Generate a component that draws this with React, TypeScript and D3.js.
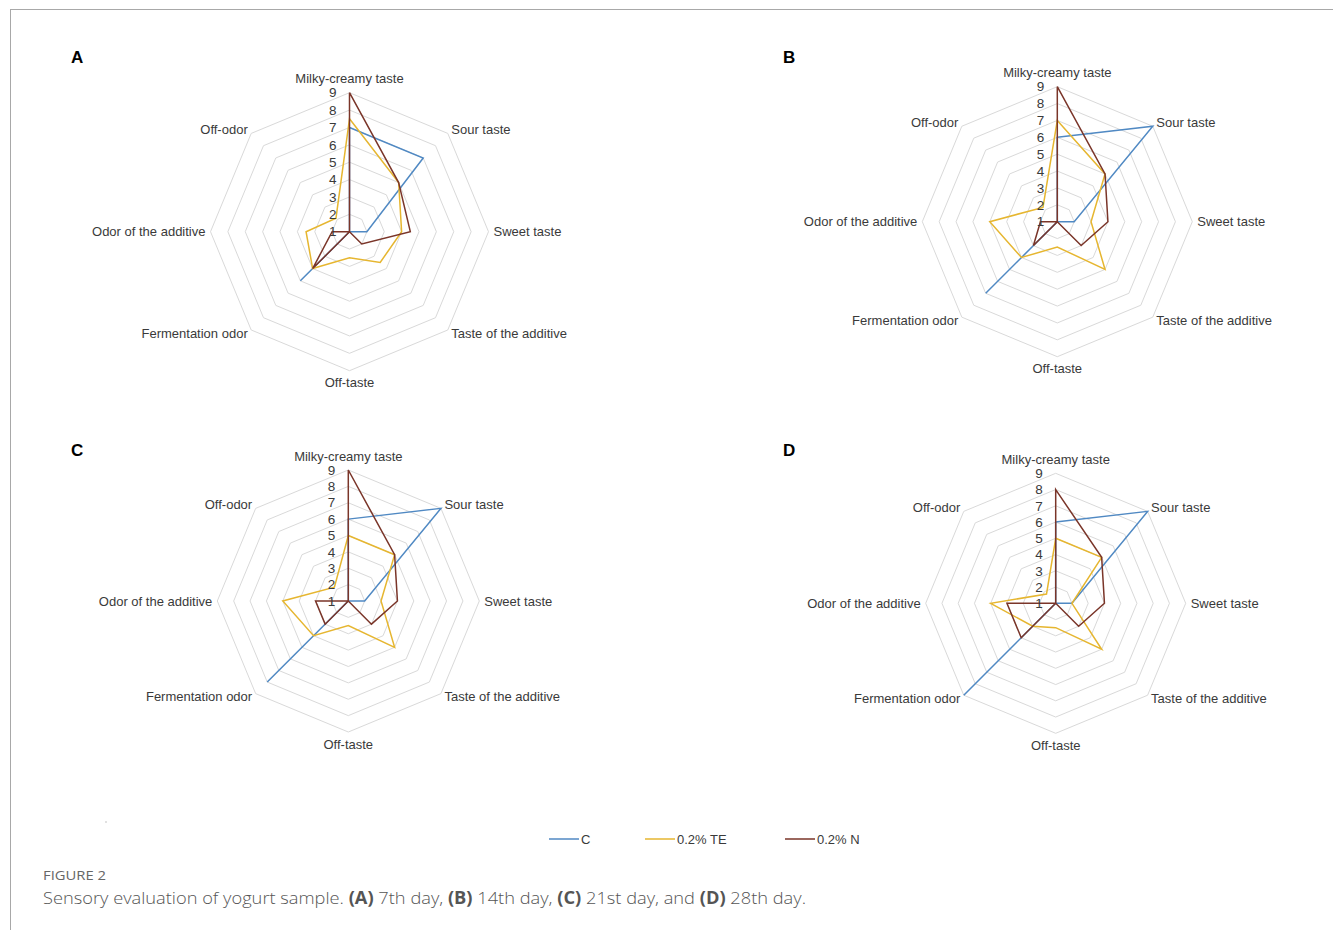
import React from 'react';
import * as d3 from 'd3';

// ---------- data ----------
const categories = [
  'Milky-creamy taste',
  'Sour taste',
  'Sweet taste',
  'Taste of the additive',
  'Off-taste',
  'Fermentation odor',
  'Odor of the additive',
  'Off-odor',
];
const seriesNames = ['C', '0.2% TE', '0.2% N'];
const tickValues = [1, 2, 3, 4, 5, 6, 7, 8, 9];
const panelLetters = ['A', 'B', 'C', 'D'];

// (A) 7th day
const day7C = [7, 7, 2, 1, 1, 5, 1, 1];
const day7TE = [7.5, 5, 4, 3.5, 2.5, 4, 3.5, 2.1];
const day7N = [9, 5, 4.5, 2, 1, 4, 2, 1];
// (B) 14th day
const day14C = [6, 9, 2, 1, 1, 7, 1, 1];
const day14TE = [7, 5, 3, 5, 2.5, 4, 5, 2.2];
const day14N = [9, 5, 4, 3, 1, 3, 2, 1];
// (C) 21st day
const day21C = [6, 9, 2, 1, 1, 8, 1, 1];
const day21TE = [5, 5, 3, 5, 2.5, 4, 5, 2.2];
const day21N = [9, 5, 4, 3, 1, 3, 3, 1];
// (D) 28th day
const day28C = [6, 9, 2, 1, 1, 9, 1, 1];
const day28TE = [5, 5, 2, 5, 2.5, 3, 5, 1.8];
const day28N = [8, 5, 4, 3, 1, 4, 4, 1];

const panelData = [
  [day7C, day7TE, day7N],
  [day14C, day14TE, day14N],
  [day21C, day21TE, day21N],
  [day28C, day28TE, day28N],
];

// ---------- styling / layout ----------
const seriesColors = ['#5089c3', '#e6b630', '#7a3529'];
const gridColor = '#d9d9d9';
const textColor = '#3a3a3a';
const FONT = '"Liberation Sans", Arial, sans-serif';

const layouts = [
  { cx: 349.5, cy: 231.7, r: 139, lx: 71, ly: 63 },
  { cx: 1057.3, cy: 221.7, r: 135, lx: 783, ly: 63 },
  { cx: 348.3, cy: 601, r: 131, lx: 71, ly: 456 },
  { cx: 1055.7, cy: 603.3, r: 130, lx: 783, ly: 456 },
];

const labelOffsets = [
  { dx: 0, dy: -14, anchor: 'middle' },
  { dx: 3.5, dy: -4, anchor: 'start' },
  { dx: 5, dy: 0, anchor: 'start' },
  { dx: 3.5, dy: 3, anchor: 'start' },
  { dx: 0, dy: 12, anchor: 'middle' },
  { dx: -3.5, dy: 3, anchor: 'end' },
  { dx: -5, dy: 0, anchor: 'end' },
  { dx: -3.5, dy: -4, anchor: 'end' },
];

function Radar({ index }: { index: number }) {
  const L = layouts[index];
  const data = panelData[index];
  const n = categories.length;
  const angle = d3.scaleLinear().domain([0, n]).range([0, 2 * Math.PI]);
  const rScale = d3.scaleLinear().domain([1, 9]).range([0, L.r]);
  const line = d3
    .lineRadial<number>()
    .angle((_, i) => angle(i))
    .radius((v) => rScale(v))
    .curve(d3.curveLinearClosed);
  const ring = (v: number) => line(categories.map(() => v)) as string;

  return (
    <g>
      <text x={L.lx} y={L.ly} fontFamily={FONT} fontWeight="bold" fontSize={17} fill="#000">
        {panelLetters[index]}
      </text>
      <g transform={`translate(${L.cx},${L.cy})`}>
        {tickValues.slice(1).map((v) => (
          <path key={v} d={ring(v)} fill="none" stroke={gridColor} strokeWidth={1} />
        ))}
        {data.map((vals, s) => (
          <path
            key={s}
            d={line(vals) as string}
            fill="none"
            stroke={seriesColors[s]}
            strokeWidth={1.5}
            strokeLinejoin="miter"
          />
        ))}
        {tickValues.map((v) => (
          <text
            key={v}
            x={-13}
            y={-rScale(v)}
            dy="0.35em"
            textAnchor="end"
            fontFamily={FONT}
            fontSize={13.5}
            fill={textColor}
          >
            {v}
          </text>
        ))}
        {categories.map((c, i) => {
          const a = angle(i);
          const vx = L.r * Math.sin(a);
          const vy = -L.r * Math.cos(a);
          const o = labelOffsets[i];
          return (
            <text
              key={c}
              x={vx + o.dx}
              y={vy + o.dy}
              dy="0.35em"
              textAnchor={o.anchor as any}
              fontFamily={FONT}
              fontSize={13}
              fill={textColor}
            >
              {c}
            </text>
          );
        })}
      </g>
    </g>
  );
}

const legendX = [549, 645, 785];

export default function App() {
  return (
    <svg
      width={1333}
      height={930}
      style={{ position: 'absolute', left: 0, top: 0, background: '#fff' }}
    >
      <rect x={0} y={0} width={1333} height={930} fill="#fff" />
      <line x1={10} y1={9.5} x2={1333} y2={9.5} stroke="#a8a8a8" strokeWidth={1} />
      <line x1={10.5} y1={9} x2={10.5} y2={930} stroke="#a8a8a8" strokeWidth={1} />
      {layouts.map((_, i) => (
        <Radar key={i} index={i} />
      ))}
      <circle cx={106} cy={822} r={0.8} fill="#bbb" />
      {seriesNames.map((s, i) => (
        <g key={s}>
          <line
            x1={legendX[i]}
            x2={legendX[i] + 30}
            y1={839}
            y2={839}
            stroke={seriesColors[i]}
            strokeWidth={1.5}
          />
          <text
            x={legendX[i] + 32}
            y={839}
            dy="0.35em"
            fontFamily={FONT}
            fontSize={13}
            fill={textColor}
          >
            {s}
          </text>
        </g>
      ))}
      <text
        x={43}
        y={875}
        dy="0.35em"
        fontFamily='"Open Sans", sans-serif'
        fontSize={13}
        fill="#666"
        textLength={63}
        lengthAdjust="spacingAndGlyphs"
      >
        FIGURE 2
      </text>
      <text
        x={43}
        y={898}
        dy="0.35em"
        fontFamily='"Open Sans", sans-serif'
        fontWeight={300}
        fontSize={17}
        fill="#555"
        textLength={763}
        lengthAdjust="spacingAndGlyphs"
      >
        Sensory evaluation of yogurt sample.{' '}
        <tspan fontWeight={700}>(A)</tspan> 7th day, <tspan fontWeight={700}>(B)</tspan> 14th day,{' '}
        <tspan fontWeight={700}>(C)</tspan> 21st day, and <tspan fontWeight={700}>(D)</tspan> 28th day.
      </text>
    </svg>
  );
}
